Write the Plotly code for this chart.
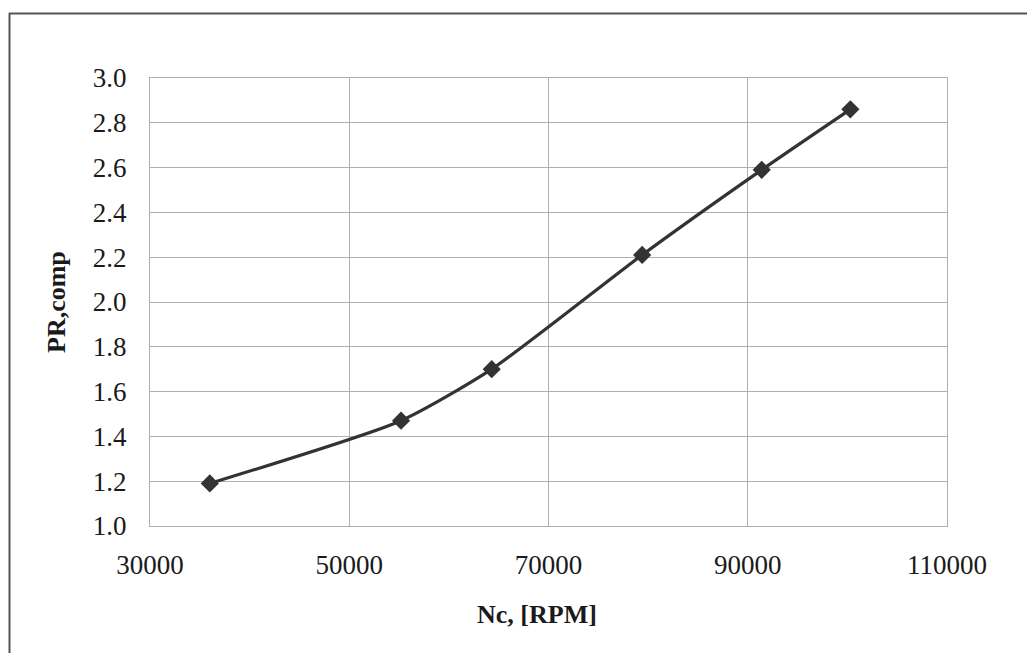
import plotly.graph_objects as go

# Data
speed_rpm = [36000, 55200, 64300, 79400, 91400, 100300]
pr_comp = [1.19, 1.47, 1.70, 2.21, 2.59, 2.86]

x_ticks = [30000, 50000, 70000, 90000, 110000]
y_ticks = [1.0, 1.2, 1.4, 1.6, 1.8, 2.0, 2.2, 2.4, 2.6, 2.8, 3.0]

W, H = 1027, 653
L, R, T, B = 150, 80, 78, 127

fig = go.Figure()
fig.add_trace(go.Scatter(
    x=speed_rpm, y=pr_comp, mode="lines+markers",
    line=dict(color="#333333", width=3.2, shape="spline", smoothing=0.6),
    marker=dict(symbol="diamond", size=14, color="#333333"),
    showlegend=False,
))

font = dict(family="Liberation Serif, Times New Roman, serif", size=27, color="#1a1a1a")
grid = "#aeaeb6"

fig.update_layout(
    width=W, height=H,
    margin=dict(l=L, r=R, t=T, b=B),
    paper_bgcolor="white", plot_bgcolor="white",
    font=font,
    xaxis=dict(
        range=[30000, 110000], tickvals=x_ticks, ticktext=[str(v) for v in x_ticks],
        showgrid=True, gridcolor=grid, gridwidth=1,
        showline=True, linecolor=grid, linewidth=1, mirror=True,
        zeroline=False, ticks="", ticklabelstandoff=15,
    ),
    yaxis=dict(
        range=[1.0, 3.0], tickvals=y_ticks, ticktext=[f"{v:.1f}" for v in y_ticks],
        showgrid=True, gridcolor=grid, gridwidth=1,
        showline=True, linecolor=grid, linewidth=1, mirror=True,
        zeroline=False, ticks="", ticklabelstandoff=17,
    ),
)

pw, ph = W - L - R, H - T - B
def px_x(p): return (p - L) / pw
def px_y(p): return (H - B - p) / ph

# axis titles
fig.add_annotation(text="<b>Nc, [RPM]</b>", xref="paper", yref="paper",
                   x=px_x(537), y=px_y(614), showarrow=False,
                   xanchor="center", yanchor="middle", font=dict(size=26))
fig.add_annotation(text="<b>PR,comp</b>", xref="paper", yref="paper",
                   x=px_x(56), y=px_y(302), showarrow=False, textangle=-90,
                   xanchor="center", yanchor="middle", font=dict(size=26))

# outer frame (top and left edges visible in the reference)
fig.add_shape(type="line", xref="paper", yref="paper",
              x0=px_x(9), x1=px_x(W + 5), y0=px_y(13.5), y1=px_y(13.5),
              line=dict(color="#555555", width=2))
fig.add_shape(type="line", xref="paper", yref="paper",
              x0=px_x(9.5), x1=px_x(9.5), y0=px_y(13), y1=px_y(H + 5),
              line=dict(color="#555555", width=2))

fig.write_html("out.html")
